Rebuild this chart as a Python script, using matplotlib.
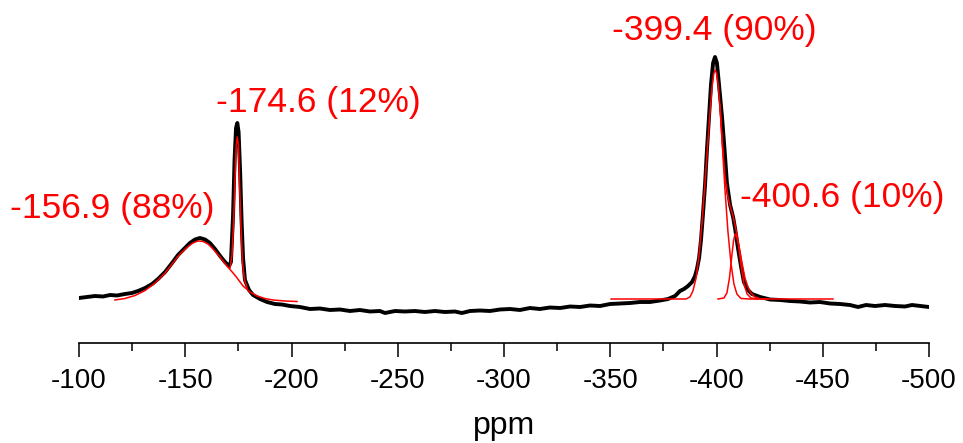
import matplotlib
matplotlib.use("Agg")
import matplotlib.pyplot as plt
from matplotlib.ticker import MultipleLocator

plt.rcParams['font.family'] = ['Liberation Sans', 'DejaVu Sans']
plt.rcParams['axes.unicode_minus'] = False

# measured spectrum (ppm, intensity a.u.)
spec_ppm = [-100.0, -103.8, -107.5, -111.3, -114.6, -117.9, -121.6, -124.9, -127.8, -131.1,
            -134.4, -137.2, -140.5, -143.8, -146.6, -149.9, -152.2, -154.6, -156.9, -159.3,
            -161.6, -164.0, -166.4, -168.7, -170.6, -171.5, -172.5, -173.2, -173.9, -174.5,
            -175.1, -175.8, -176.5, -177.2, -178.1, -180.0, -181.9, -185.2, -188.5, -192.2,
            -195.5, -199.3, -204.0, -208.7, -213.4, -218.1, -222.8, -227.5, -232.2, -236.9,
            -241.6, -244.0, -248.7, -253.4, -258.1, -262.8, -267.5, -272.2, -276.9, -280.2,
            -284.0, -288.7, -293.4, -298.1, -302.8, -307.5, -312.2, -316.9, -321.6, -326.4,
            -331.1, -335.8, -340.5, -345.2, -349.9, -354.6, -359.3, -364.0, -368.7, -373.4,
            -377.2, -380.5, -382.8, -384.7, -386.6, -388.5, -389.9, -390.8, -391.8, -392.7,
            -393.6, -394.6, -395.5, -396.5, -397.4, -398.4, -399.3, -400.2, -401.2, -402.6,
            -403.8, -404.9, -406.4, -407.8, -408.7, -410.1, -411.5, -412.9, -414.8, -416.7,
            -420.5, -425.2, -429.9, -434.6, -439.3, -444.0, -448.7, -453.4, -458.1, -462.8,
            -466.6, -470.4, -474.6, -479.3, -484.0, -488.7, -492.0, -495.8, -500.0]
spec_int = [2, 3, 4, 3.5, 5, 4.5, 6, 7, 9, 12,
            16, 21, 28, 37, 45, 52, 57, 60.5, 62, 60.5,
            57, 51, 44, 38, 34, 38, 85, 140, 172, 177,
            168, 130, 80, 42, 20, 10, 5, 1, -2, -4,
            -4.5, -6, -7, -9, -8.5, -10, -9.5, -11, -10, -11.5,
            -11, -13, -11, -11.5, -11, -12, -11, -12, -11.5, -13,
            -11, -10.5, -11, -9.5, -9, -10, -8, -9, -7.5, -8,
            -6.5, -7, -5.5, -6, -4, -3.5, -3, -2, -2, -0.5,
            1, 4, 9, 11, 14, 18, 24, 31, 42, 60,
            85, 115, 150, 185, 215, 237, 243, 237, 215, 183,
            150, 117, 95, 83, 72, 52, 34, 18, 10, 6,
            3, 0.5, 0, -1, -1.5, -2.5, -2, -3.5, -4, -5,
            -7, -5, -6, -5, -6, -6.5, -5, -6, -7]

# fitted components
broad_ppm = [-116.9, -121.6, -126.4, -131.1, -135.8, -140.5, -143.8, -147.5, -151.3, -153.6,
             -156.0, -158.4, -160.7, -163.1, -166.4, -169.6, -172.5, -174.4, -177.2, -180.5,
             -183.8, -187.5, -191.3, -196.9, -202.6]
broad_int = [0, 1.5, 4.5, 9.5, 17, 27, 36, 46, 53.5, 57,
             59, 58.5, 56, 51, 43, 34, 27, 22, 14, 8,
             4, 1.5, 0, -1, -1.5]

sharp_ppm = [-171.1, -172.0, -172.7, -173.4, -174.0, -174.5, -175.0, -175.5, -176.2, -176.9,
             -177.9, -179.1]
sharp_int = [32, 45, 75, 120, 155, 163, 155, 120, 75, 38, 20, 12]

main_ppm = [-350.4, -368.7, -385.6, -387.5, -388.9, -390.4, -391.8, -393.2, -394.6, -396.0,
            -397.2, -398.1, -398.8, -399.4, -400.0, -400.7, -401.6, -402.6, -404.0, -405.4,
            -406.8, -408.2, -409.6, -411.5, -415.8, -454.8]
main_int = [1, 1, 1, 3, 9, 22, 45, 78, 117, 160,
            195, 217, 227, 230, 227, 217, 195, 160, 110, 68,
            37, 16, 6, 1.5, 1, 1]

small_ppm = [-400.7, -403.5, -404.9, -406.1, -407.1, -408.0, -408.7, -409.4, -410.4, -411.5,
             -412.9, -414.4, -416.2, -419.5]
small_int = [1, 2, 7, 22, 42, 59, 66, 65, 54, 35, 16, 6, 2, 1]

sum_ppm = [-401.6, -402.6, -404.0, -405.4, -406.4, -407.8, -409.2, -410.6, -412.0, -413.4,
           -414.8, -416.2, -418.1, -420.5, -424.2]
sum_int = [195, 160, 123, 103, 94, 84, 70, 54, 37, 22, 13, 7, 3, 1.2, 1]

labels = ['-156.9 (88%)', '-174.6 (12%)', '-399.4 (90%)', '-400.6 (10%)']
label_pos = [(-67.5, 82), (-164.5, 188), (-350.8, 260), (-411.1, 93)]

fig = plt.figure(figsize=(9.63, 4.43), dpi=100)
ax = fig.add_axes([79 / 963, 100 / 443, 850 / 963, 343 / 443])

red = '#ff0000'
ax.plot(spec_ppm, spec_int, color='black', lw=2.8, solid_joinstyle='round', zorder=2)
for xs, ys in [(broad_ppm, broad_int), (sharp_ppm, sharp_int), (main_ppm, main_int),
               (small_ppm, small_int), (sum_ppm, sum_int)]:
    ax.plot(xs, ys, color=red, lw=1.1, zorder=3)

for txt, (px, py) in zip(labels, label_pos):
    ax.text(px, py, txt, color=red, fontsize=25.5, ha='left', va='baseline')

ax.set_xlim(-100, -500)
ax.set_ylim(-43, 300)
ax.xaxis.set_major_locator(MultipleLocator(50))
ax.xaxis.set_minor_locator(MultipleLocator(25))
ax.tick_params(axis='x', which='major', length=10, width=1.1, labelsize=20, pad=8)
ax.tick_params(axis='x', which='minor', length=5.8, width=1.1)
ax.set_yticks([])
for s in ['top', 'right', 'left']:
    ax.spines[s].set_visible(False)
ax.spines['bottom'].set_linewidth(1.2)
ax.set_xlabel('ppm', fontsize=23, labelpad=12)

plt.savefig('out.png', dpi=100)
